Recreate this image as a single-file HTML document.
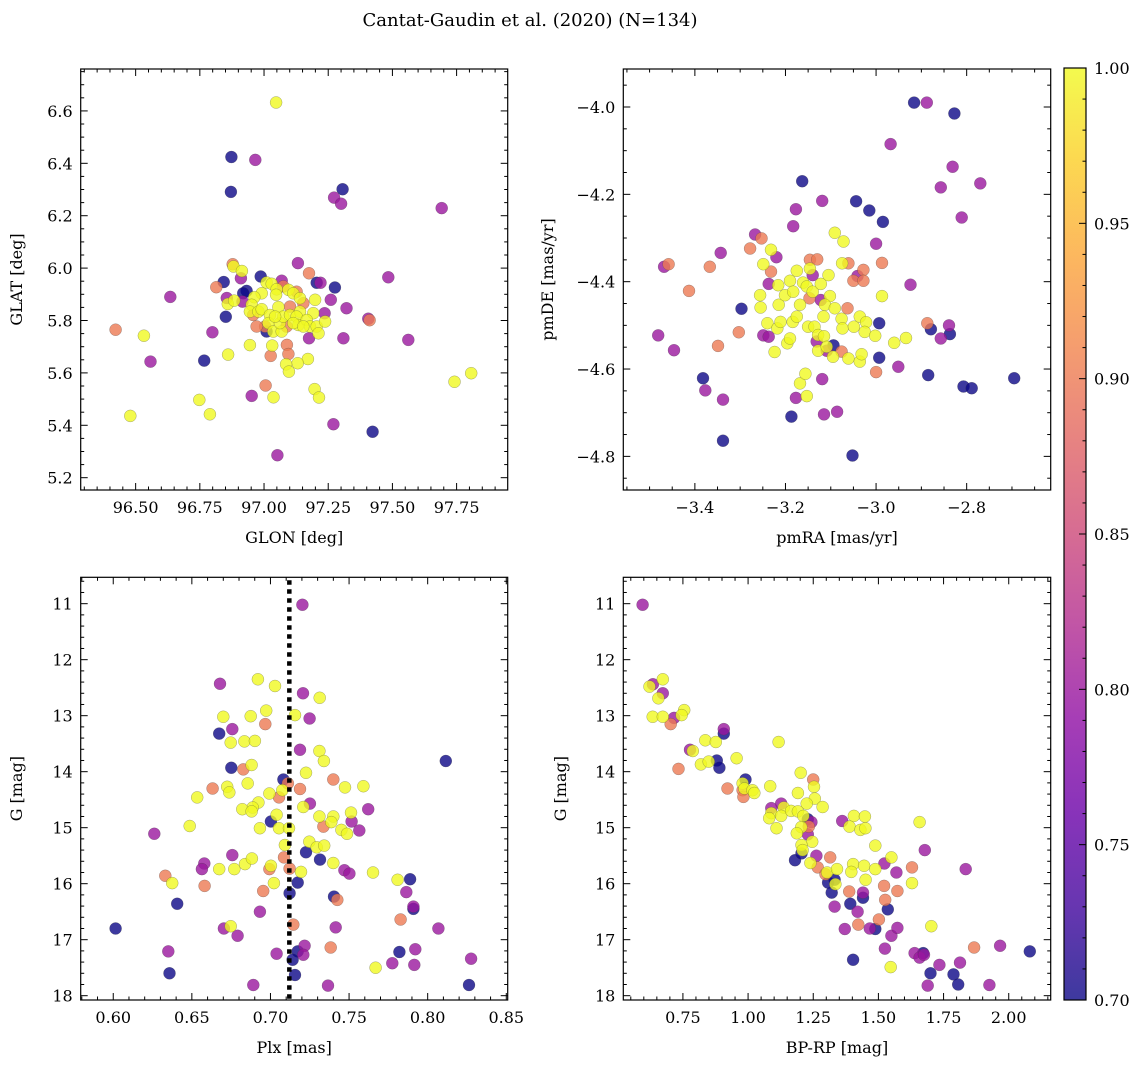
<!DOCTYPE html>
<html><head><meta charset="utf-8">
<style>
html,body{margin:0;padding:0;background:#fff;}
svg{display:block;font-family:"DejaVu Serif","Liberation Serif",serif;}
</style></head>
<body>
<svg id="fig" width="1148" height="1067" viewBox="0 0 1148 1067" xmlns="http://www.w3.org/2000/svg">
<defs>
<linearGradient id="plasma" x1="0" y1="1" x2="0" y2="0">
<stop offset="0" stop-color="#0d0887"/><stop offset="0.1" stop-color="#41049d"/><stop offset="0.2" stop-color="#6a00a8"/><stop offset="0.3" stop-color="#8f0da4"/><stop offset="0.4" stop-color="#b12a90"/><stop offset="0.5" stop-color="#cc4778"/><stop offset="0.6" stop-color="#e16462"/><stop offset="0.7" stop-color="#f2844b"/><stop offset="0.8" stop-color="#fca636"/><stop offset="0.9" stop-color="#fcce25"/><stop offset="1" stop-color="#f0f921"/>
</linearGradient>
</defs>
<text x="530" y="26" font-size="18" text-anchor="middle">Cantat-Gaudin et al. (2020) (N=134)</text>
</svg>
<script>
// ---------- Panel 1: GLON / GLAT ----------
const p1X=[97.047,96.873,96.966,96.871,97.306,97.273,97.300,97.692,97.132,96.878,96.881,96.914,97.175,96.987,96.843,96.910,97.069,97.205,97.220,97.276,97.484,96.814,96.635,96.932,96.855,96.859,96.884,96.916,97.260,97.321,96.851,96.422,96.532,96.799,97.406,97.411,97.236,97.562,97.309,97.175,96.558,96.767,96.860,96.945,97.032,97.026,97.089,97.095,97.171,97.131,97.086,97.097,97.807,97.742,97.006,97.197,97.214,97.037,96.952,96.748,96.789,96.479,97.270,97.423,97.052,
97.010,97.030,97.049,97.047,96.991,96.962,96.952,96.945,96.978,96.991,97.023,97.017,97.004,96.971,97.036,97.069,97.062,97.056,97.075,97.101,97.095,97.114,97.127,97.140,97.153,97.199,97.192,97.140,97.127,97.134,97.166,97.179,97.205,97.212,97.238,97.101,97.088,97.114,97.010,96.958,96.919,97.075,97.153,97.043];
const p1Y=[6.632,6.424,6.413,6.291,6.301,6.269,6.246,6.229,6.019,6.015,6.006,5.989,5.980,5.968,5.947,5.961,5.952,5.944,5.944,5.926,5.965,5.927,5.890,5.913,5.886,5.863,5.876,5.872,5.879,5.847,5.814,5.765,5.742,5.755,5.807,5.801,5.828,5.726,5.732,5.732,5.643,5.647,5.670,5.706,5.704,5.665,5.707,5.672,5.653,5.637,5.633,5.605,5.599,5.566,5.552,5.538,5.506,5.507,5.512,5.497,5.442,5.436,5.404,5.375,5.286,
5.945,5.940,5.919,5.898,5.904,5.889,5.860,5.834,5.834,5.843,5.821,5.790,5.777,5.777,5.758,5.758,5.790,5.851,5.815,5.821,5.917,5.904,5.910,5.885,5.866,5.879,5.828,5.834,5.815,5.783,5.802,5.777,5.777,5.751,5.796,5.853,5.777,5.790,5.758,5.821,5.904,5.930,5.777,5.815];
const p1P=[1,0.7,0.8,0.7,0.7,0.8,0.8,0.8,0.8,0.9,1,1,0.9,0.7,0.7,0.8,0.8,0.7,0.8,0.7,0.8,0.9,0.8,0.7,0.8,1,1,0.8,0.8,0.8,0.7,0.9,1,0.8,0.8,0.9,0.8,0.8,0.8,0.8,0.8,0.7,1,1,1,0.9,0.9,0.9,1,1,1,1,1,1,0.9,1,1,1,0.8,1,1,1,0.8,0.7,0.8,
1,1,1,1,1,1,1,1,1,1,1,1,0.9,0.9,1,1,1,1,1,1,1,1,0.9,1,0.9,1,1,1,1,1,1,1,1,1,1,0.9,0.9,1,0.7,0.9,0.7,0.9,1,1];
const p1XTicks=[96.5,96.75,97.0,97.25,97.5,97.75];
const p1XTickLabels=["96.50","96.75","97.00","97.25","97.50","97.75"];
const p1YTicks=[5.2,5.4,5.6,5.8,6.0,6.2,6.4,6.6];
const p1YTickLabels=["5.2","5.4","5.6","5.8","6.0","6.2","6.4","6.6"];

// ---------- Panel 2: pmRA / pmDE ----------
const p2X=[-2.916,-2.888,-2.827,-2.968,-2.831,-2.857,-2.770,-2.811,-3.163,-3.119,-3.044,-3.015,-2.985,-3.177,-3.183,-3.000,-3.267,-3.253,-3.278,-3.343,-3.468,-3.458,-3.367,-3.413,-3.297,-3.481,-3.446,-3.349,-3.303,-3.382,-3.377,-3.338,-3.338,-3.187,-3.177,-3.115,-3.086,-3.052,-3.119,-3.153,-3.168,-3.156,-3.000,-2.951,-2.885,-2.807,-2.789,-2.695,-2.924,-2.987,-2.887,-2.879,-2.839,-2.837,-2.857,-2.993,-2.993,-2.934,-2.960,-2.987,-3.091,-3.072,-3.075,-3.232,-3.220,-3.249,-3.232,-3.237,-3.256,-3.255,-3.240,-3.249,-3.237,-3.218,-3.211,-3.224,-3.196,-3.190,-3.184,-3.175,-3.215,-3.201,-3.190,-3.183,-3.168,-3.175,-3.216,-3.161,-3.153,-3.146,-3.140,-3.146,-3.130,-3.140,-3.147,-3.122,-3.105,-3.122,-3.102,-3.113,-3.116,-3.091,-3.150,-3.136,-3.128,-3.115,-3.131,-3.128,-3.109,-3.109,-3.094,-3.095,-3.076,-3.076,-3.074,-3.063,-3.049,-3.061,-3.036,-3.036,-3.032,-3.022,-3.025,-3.002,-3.050,-3.041,-3.028,-3.028,-3.061];
const p2Y=[-3.990,-3.990,-4.015,-4.085,-4.137,-4.184,-4.175,-4.253,-4.170,-4.215,-4.216,-4.237,-4.263,-4.234,-4.273,-4.313,-4.292,-4.301,-4.324,-4.334,-4.366,-4.360,-4.366,-4.421,-4.462,-4.523,-4.557,-4.547,-4.516,-4.621,-4.649,-4.670,-4.764,-4.709,-4.666,-4.704,-4.698,-4.798,-4.623,-4.662,-4.633,-4.611,-4.607,-4.595,-4.614,-4.640,-4.644,-4.621,-4.407,-4.357,-4.495,-4.509,-4.500,-4.520,-4.530,-4.495,-4.574,-4.529,-4.540,-4.433,-4.288,-4.308,-4.358,-4.327,-4.344,-4.360,-4.377,-4.405,-4.431,-4.459,-4.495,-4.523,-4.526,-4.507,-4.492,-4.561,-4.541,-4.530,-4.492,-4.480,-4.453,-4.431,-4.398,-4.423,-4.453,-4.375,-4.408,-4.402,-4.411,-4.370,-4.385,-4.350,-4.349,-4.423,-4.438,-4.442,-4.385,-4.405,-4.433,-4.453,-4.480,-4.461,-4.503,-4.503,-4.522,-4.525,-4.537,-4.558,-4.558,-4.549,-4.546,-4.572,-4.560,-4.485,-4.507,-4.461,-4.503,-4.576,-4.480,-4.583,-4.566,-4.493,-4.515,-4.524,-4.398,-4.387,-4.373,-4.398,-4.358];
const p2P=[0.7,0.8,0.7,0.8,0.8,0.8,0.8,0.8,0.7,0.8,0.7,0.7,0.7,0.8,0.8,0.8,0.8,0.9,0.9,0.8,0.8,0.9,0.9,0.9,0.7,0.8,0.8,0.9,0.9,0.7,0.8,0.8,0.7,0.7,0.8,0.8,0.8,0.7,0.8,1,1,1,0.9,0.8,0.7,0.7,0.7,0.7,0.8,0.9,0.9,0.7,0.8,0.7,0.8,0.7,0.7,1,1,1,1,1,1,1,0.8,1,0.9,0.8,1,1,1,0.8,0.8,1,1,1,1,1,1,1,1,1,1,1,1,1,1,1,1,1,0.8,0.9,0.9,1,0.9,0.8,1,1,1,1,1,1,1,1,1,1,0.8,1,0.8,1,0.7,1,0.9,1,1,0.9,1,1,1,1,1,1,1,1,0.9,0.8,0.9,0.9,0.9];
const p2XTicks=[-3.4,-3.2,-3.0,-2.8];
const p2XTickLabels=["\u22123.4","\u22123.2","\u22123.0","\u22122.8"];
const p2YTicks=[-4.8,-4.6,-4.4,-4.2,-4.0];
const p2YTickLabels=["\u22124.8","\u22124.6","\u22124.4","\u22124.2","\u22124.0"];

// ---------- Panel 3: Plx / G ----------
const p3X=[.7203,.6679,.6920,.7029,.7207,.7313,.6700,.6874,.6973,.7156,.7249,.6967,.6674,.6757,.6747,.6834,.6901,.7188,.7311,.7340,.8115,.6751,.6827,.6880,.7082,.7111,.7226,.7188,.7400,.7474,.7591,.6632,.6725,.6738,.6534,.6855,.6993,.7054,.7075,.6923,.6887,.6821,.6880,.7251,.7209,.7039,.7003,.7311,.7337,.7400,.7387,.7512,.7516,.7622,.7565,.7451,.7487,.6486,.6261,.6933,.7054,.7118,.7092,.7247,.7294,.7342,.7226,.7315,.7086,.6757,.6579,.6564,.6674,.6770,.6838,.6882,.6993,.7003,.7122,.7194,.7400,.7470,.7502,.7652,.6331,.6375,.6581,.7022,.7173,.7809,.7888,.6954,.7122,.7404,.7425,.7864,.6407,.6933,.7909,.7909,.7828,.6015,.6704,.6747,.6791,.7145,.7415,.8068,.6350,.7039,.7173,.7217,.7209,.7141,.7383,.7820,.7921,.8276,.7775,.7915,.7669,.6358,.7156,.6891,.7366,.8263];
const p3Y=[11.02,12.43,12.35,12.47,12.60,12.68,13.02,13.01,12.91,12.99,13.05,13.15,13.32,13.24,13.48,13.46,13.45,13.61,13.63,13.81,13.81,13.93,13.96,13.88,14.14,14.21,14.02,14.31,14.14,14.28,14.26,14.30,14.27,14.37,14.46,14.21,14.39,14.46,14.33,14.55,14.64,14.67,14.71,14.57,14.63,14.77,14.89,14.80,14.98,14.80,14.90,14.73,14.89,14.67,15.05,15.04,15.11,14.97,15.11,15.01,15.01,15.01,15.31,15.25,15.35,15.32,15.44,15.57,15.53,15.49,15.64,15.74,15.74,15.74,15.65,15.55,15.74,15.68,15.73,15.79,15.63,15.76,15.82,15.80,15.86,15.99,16.04,15.99,15.98,15.93,15.92,16.13,16.17,16.23,16.29,16.15,16.36,16.50,16.41,16.45,16.64,16.80,16.80,16.76,16.93,16.73,16.78,16.80,17.21,17.25,17.21,17.11,17.27,17.36,17.14,17.22,17.17,17.34,17.42,17.45,17.50,17.60,17.63,17.81,17.82,17.81];
const p3P=[0.8,0.8,1,1,0.8,1,1,1,1,1,0.8,0.9,0.7,0.8,1,1,1,0.8,1,1,0.7,0.7,0.9,1,0.7,0.9,1,0.9,0.9,1,1,0.9,1,1,1,1,1,0.9,1,1,1,1,1,0.8,1,1,0.7,1,0.9,1,1,1,0.8,0.8,0.8,1,1,1,0.8,1,1,1,1,1,1,1,0.7,0.7,0.9,0.8,0.8,0.8,1,1,1,1,0.9,1,0.9,1,1,0.8,0.8,1,0.9,1,0.9,1,0.7,1,0.7,0.9,0.7,0.7,0.9,0.8,0.7,0.8,0.8,0.7,0.9,0.7,0.8,1,0.8,0.9,0.8,0.8,0.8,0.8,0.7,0.8,0.8,0.7,0.9,0.7,0.8,0.8,0.8,0.8,1,0.7,0.7,0.8,0.8,0.7];
const p3XTicks=[0.60,0.65,0.70,0.75,0.80,0.85];
const p3XTickLabels=["0.60","0.65","0.70","0.75","0.80","0.85"];
const p3YTicks=[11,12,13,14,15,16,17,18];
const p3YTickLabels=["11","12","13","14","15","16","17","18"];
const p3VLine=[0.712];

// ---------- Panel 4: BP-RP / G ----------
const p4X=[0.5955,.635,.622,.673,.673,.656,.634,.673,.716,.703,.755,.745,.907,.907,.836,.876,1.117,.777,.788,.819,.849,.880,.890,.956,.733,.990,.921,.979,.982,.979,.986,1.017,1.024,1.085,1.202,1.250,1.253,1.256,1.286,1.225,1.191,1.127,1.137,1.089,1.089,1.081,1.127,1.165,1.191,1.109,1.212,1.229,1.243,1.233,1.204,1.229,1.187,1.246,1.205,1.209,1.361,1.406,1.448,1.389,1.431,1.450,1.488,1.658,1.678,1.835,1.180,1.205,1.262,1.315,1.239,1.267,1.297,1.303,1.341,1.307,1.332,1.335,1.321,1.332,1.403,1.396,1.445,1.488,1.451,1.523,1.550,1.569,1.629,1.629,1.522,1.573,1.388,1.441,1.441,1.392,1.526,1.536,1.420,1.502,1.423,1.371,1.467,1.488,1.550,1.573,1.703,1.525,1.403,1.547,1.639,1.658,1.672,1.675,1.700,1.689,1.734,1.788,1.806,1.813,1.867,1.926,1.967,2.081];
const p4Y=[11.02,12.44,12.48,12.35,12.60,12.69,13.02,13.02,13.04,13.15,12.90,12.99,13.24,13.32,13.44,13.47,13.47,13.61,13.63,13.87,13.82,13.80,13.93,13.76,13.95,14.14,14.30,14.33,14.45,14.21,14.30,14.33,14.38,14.26,14.02,14.14,14.27,14.48,14.63,14.57,14.38,14.57,14.64,14.65,14.74,14.83,14.79,14.70,14.71,15.01,14.79,14.85,14.90,14.98,14.99,15.12,15.10,15.25,15.31,15.40,14.88,14.79,14.80,14.98,15.04,15.01,15.32,14.90,15.40,15.74,15.58,15.46,15.50,15.53,15.63,15.71,15.83,15.80,15.74,15.98,15.93,16.01,16.16,16.41,15.65,15.79,15.68,15.74,15.93,15.64,15.53,15.80,15.71,15.99,16.04,16.13,16.14,16.16,16.25,16.36,16.29,16.46,16.50,16.64,16.73,16.81,16.80,16.81,16.93,16.79,16.76,17.16,17.36,17.49,17.24,17.32,17.24,17.27,17.60,17.82,17.45,17.62,17.80,17.41,17.14,17.81,17.11,17.21];
const p4P=[0.8,0.8,1,1,0.8,1,1,1,0.8,0.9,1,1,0.8,0.7,1,1,1,0.8,1,1,1,0.7,0.7,1,0.9,0.7,0.9,0.9,0.9,1,1,1,1,1,1,0.9,1,1,1,1,1,0.8,1,0.8,1,1,1,1,1,1,1,0.7,0.8,0.9,1,0.8,1,1,1,1,0.8,1,1,1,1,1,1,1,0.8,0.8,0.7,0.7,0.8,0.9,1,0.9,0.9,1,1,0.7,0.7,1,0.7,0.8,1,1,1,1,1,0.8,1,0.8,0.9,1,0.9,0.9,0.9,0.8,0.7,0.7,0.9,0.7,0.8,0.9,0.9,0.8,0.8,0.7,0.8,0.8,1,0.8,0.7,1,0.8,0.8,0.7,0.8,0.7,0.8,0.8,0.7,0.7,0.8,0.9,0.8,0.8,0.7];
const p4XTicks=[0.75,1.00,1.25,1.50,1.75,2.00];
const p4XTickLabels=["0.75","1.00","1.25","1.50","1.75","2.00"];
const p4YTicks=[11,12,13,14,15,16,17,18];
const p4YTickLabels=["11","12","13","14","15","16","17","18"];

// ---------- Colorbar ----------
const cbTicks=[0.70,0.75,0.80,0.85,0.90,0.95,1.00];
const cbTickLabels=["0.70","0.75","0.80","0.85","0.90","0.95","1.00"];

const NS="http://www.w3.org/2000/svg";
const svg=document.getElementById('fig');
function mk(tag,attrs,parent){const e=document.createElementNS(NS,tag);for(const k in attrs)e.setAttribute(k,attrs[k]);(parent||svg).appendChild(e);return e;}

const stops=[[13,8,135],[65,4,157],[106,0,168],[143,13,164],[177,42,144],[204,71,120],[225,100,98],[242,132,75],[252,166,54],[252,206,37],[240,249,33]];
function plasma(t){t=Math.max(0,Math.min(1,t));const f=t*10;const i=Math.min(9,Math.floor(f));const r=f-i;const a=stops[i],b=stops[i+1];return 'rgb('+[0,1,2].map(k=>Math.round(a[k]+(b[k]-a[k])*r)).join(',')+')';}
function cmap(p){return plasma((p-0.7)/0.3);}

function linScale(d0,d1,r0,r1){return v=>r0+(v-d0)/(d1-d0)*(r1-r0);}

function panel(cfg){
  const g=mk('g',{});
  
  
  const L=cfg.box[0],T=cfg.box[1],R=cfg.box[2],B=cfg.box[3];
  const sx=linScale(cfg.xd[0],cfg.xd[1],L,R);
  const sy=linScale(cfg.yd[0],cfg.yd[1],T,B);
  // points
  const idx=cfg.x.map((_,i)=>i).sort((a,b)=>cfg.p[a]-cfg.p[b]);
  const pg=mk('g',{},g);
  
  
  idx.forEach(i=>{
    const c=mk('circle',{cx:sx(cfg.x[i]).toFixed(1),cy:sy(cfg.y[i]).toFixed(1),r:6,fill:cmap(cfg.p[i]),'fill-opacity':0.8,stroke:'rgba(60,60,60,0.45)','stroke-width':0.5},pg);
    
    
  });
  if(cfg.vline){cfg.vline.forEach(v=>{const l=mk('line',{x1:sx(v),x2:sx(v),y1:T+3,y2:B,stroke:'#000','stroke-width':4.5,'stroke-dasharray':'4.5,4.5'},g);
    
    });}
  // ticks
  const tg=mk('g',{stroke:'#000','stroke-width':1},g);
  
  
  function between(v,a,b){const lo=Math.min(a,b),hi=Math.max(a,b);return v>=lo-1e-9&&v<=hi+1e-9;}
  const xs=Math.ceil(Math.min(cfg.xd[0],cfg.xd[1])/cfg.xminor);
  for(let k=xs;k*cfg.xminor<=Math.max(cfg.xd[0],cfg.xd[1]);k++){const v=k*cfg.xminor;const major=cfg.xt.some(t=>Math.abs(t-v)<1e-6)||Math.abs(Math.round(v/cfg.xmajor)*cfg.xmajor-v)<1e-6;const len=major?7:3.5;const X=sx(v);
    mk('line',{x1:X,x2:X,y1:B,y2:B-len},tg);mk('line',{x1:X,x2:X,y1:T,y2:T+len},tg);}
  const ys=Math.ceil(Math.min(cfg.yd[0],cfg.yd[1])/cfg.yminor);
  for(let k=ys;k*cfg.yminor<=Math.max(cfg.yd[0],cfg.yd[1])+1e-9;k++){const v=k*cfg.yminor;const major=Math.abs(Math.round(v/cfg.ymajor)*cfg.ymajor-v)<1e-6;const len=major?7:3.5;const Y=sy(v);
    mk('line',{x1:L,x2:L+len,y1:Y,y2:Y},tg);mk('line',{x1:R,x2:R-len,y1:Y,y2:Y},tg);}
  mk('rect',{x:L,y:T,width:R-L,height:B-T,fill:'none',stroke:'#000','stroke-width':1.2},g);
  cfg.xt.forEach((v,i)=>{const t=mk('text',{x:sx(v),y:B+23,'font-size':16,'text-anchor':'middle'},g);t.textContent=cfg.xl[i];
    
    });
  cfg.yt.forEach((v,i)=>{const t=mk('text',{x:L-8,y:sy(v)+6,'font-size':16,'text-anchor':'end'},g);t.textContent=cfg.yl[i];
    
    });
  const xt=mk('text',{x:(L+R)/2,y:B+53,'font-size':16,'text-anchor':'middle'},g);xt.textContent=cfg.xlabel;
  
  
  const yt=mk('text',{x:0,y:0,'font-size':16,'text-anchor':'middle',transform:'translate('+(cfg.ylx)+','+((T+B)/2)+') rotate(-90)'},g);yt.textContent=cfg.ylabel;
  
  
}

panel({name:'glon-glat-panel',box:[80.7,69,507.7,490],xd:[96.286,97.949],yd:[6.760,5.153],x:p1X,y:p1Y,p:p1P,xt:p1XTicks,xl:p1XTickLabels,yt:p1YTicks,yl:p1YTickLabels,xminor:0.05,xmajor:0.25,yminor:0.05,ymajor:0.2,xlabel:'GLON [deg]',ylabel:'GLAT [deg]',ylx:22});
panel({name:'proper-motion-panel',box:[623.3,69,1050.7,490],xd:[-3.558,-2.6145],yd:[-3.913,-4.877],x:p2X,y:p2Y,p:p2P,xt:p2XTicks,xl:p2XTickLabels,yt:p2YTicks,yl:p2YTickLabels,xminor:0.05,xmajor:0.2,yminor:0.05,ymajor:0.2,xlabel:'pmRA [mas/yr]',ylabel:'pmDE [mas/yr]',ylx:553});
panel({name:'parallax-mag-panel',box:[80.7,577.3,507.7,1000],xd:[0.5793,0.8509],yd:[10.529,18.077],x:p3X,y:p3Y,p:p3P,xt:p3XTicks,xl:p3XTickLabels,yt:p3YTicks,yl:p3YTickLabels,xminor:0.01,xmajor:0.05,yminor:0.2,ymajor:1,xlabel:'Plx [mas]',ylabel:'G [mag]',ylx:22,vline:p3VLine});
panel({name:'cmd-panel',box:[623.3,577.3,1050.7,1000],xd:[0.5213,2.161],yd:[10.529,18.077],x:p4X,y:p4Y,p:p4P,xt:p4XTicks,xl:p4XTickLabels,yt:p4YTicks,yl:p4YTickLabels,xminor:0.05,xmajor:0.25,yminor:0.2,ymajor:1,xlabel:'BP-RP [mag]',ylabel:'G [mag]',ylx:566});

// colorbar
(function(){
  const L=1064,R=1086,T=68,B=1000;
  const g=mk('g',{});
  
  
  mk('rect',{x:L,y:T,width:R-L,height:B-T,fill:'url(#plasma)','fill-opacity':0.8},g);
  mk('rect',{x:L,y:T,width:R-L,height:B-T,fill:'none',stroke:'#000','stroke-width':1.2},g);
  const sc=linScale(0.7,1.0,B,T);
  for(let k=70;k<=100;k++){const v=k/100;const major=k%5===0;const Y=sc(v);
    mk('line',{x1:R,x2:R-(major?7:3.5),y1:Y,y2:Y,stroke:'#000','stroke-width':1},g);}
  cbTicks.forEach((v,i)=>{const t=mk('text',{x:R+8,y:sc(v)+6,'font-size':16},g);t.textContent=cbTickLabels[i];
    
    });
})();
</script>
</body></html>
